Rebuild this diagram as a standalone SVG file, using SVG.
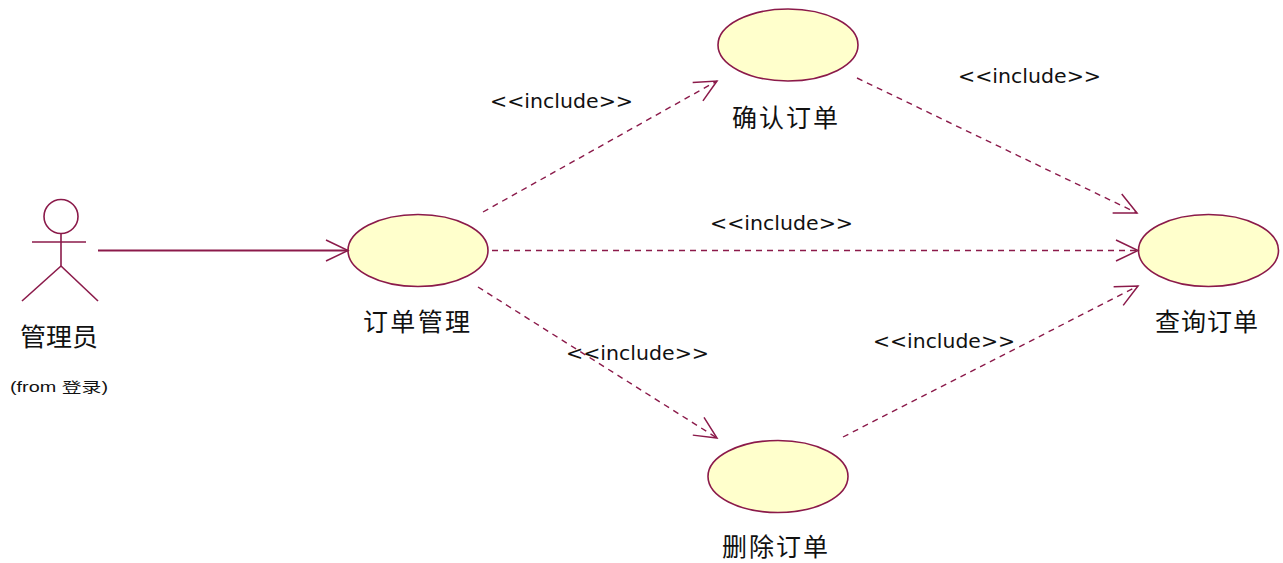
<svg xmlns="http://www.w3.org/2000/svg" width="1283" height="563" viewBox="0 0 1283 563">
<style>
.uc{fill:#FFFFCC;stroke:#8B1A4A;stroke-width:1.6}
.actor{fill:none;stroke:#8B1A4A;stroke-width:1.6}
.assoc{fill:none;stroke:#8B1A4A;stroke-width:1.8}
.dep{fill:none;stroke:#8B1A4A;stroke-width:1.4;stroke-dasharray:6 5}
.lbl{font-family:"Noto Sans CJK SC","Noto Sans",sans-serif;font-size:25px;fill:#111;text-anchor:middle}
.inc{font-family:"DejaVu Sans",sans-serif;font-size:20px;fill:#111}
.from{font-family:"Liberation Sans","Noto Sans CJK SC",sans-serif;font-size:14px;fill:#111}
</style>
<defs>
<marker id="open" markerUnits="userSpaceOnUse" markerWidth="30" markerHeight="30" refX="0" refY="0" viewBox="-25 -15 30 30" orient="auto">
<path d="M -22 -10.5 L 0 0 L -22 10.5" fill="none" stroke="#8B1A4A" stroke-width="1.5"/>
</marker>
</defs>
<rect x="0" y="0" width="1283" height="563" fill="#FFFFFF"/>
<g id="actor-admin">
<circle class="actor" cx="61" cy="216.5" r="17"/>
<line class="actor" x1="32" y1="242" x2="86" y2="242"/>
<line class="actor" x1="61" y1="233.5" x2="61" y2="266"/>
<line class="actor" x1="61" y1="266" x2="22" y2="301"/>
<line class="actor" x1="61" y1="266" x2="98" y2="301"/>
<text class="lbl" x="59" y="346" textLength="78" lengthAdjust="spacingAndGlyphs">管理员</text>
<text class="from" x="10" y="392" textLength="98" lengthAdjust="spacingAndGlyphs">(from 登录)</text>
</g>
<g id="uc-order-mgmt">
<ellipse class="uc" cx="418" cy="250.5" rx="70" ry="36"/>
<text class="lbl" x="416.5" y="331" textLength="107" lengthAdjust="spacing">订单管理</text>
</g>
<g id="uc-confirm">
<ellipse class="uc" cx="788" cy="45" rx="70" ry="36"/>
<text class="lbl" x="785" y="127" textLength="106" lengthAdjust="spacing">确认订单</text>
</g>
<g id="uc-query">
<ellipse class="uc" cx="1208.5" cy="250.5" rx="70" ry="36"/>
<text class="lbl" x="1206.5" y="331" textLength="103" lengthAdjust="spacing">查询订单</text>
</g>
<g id="uc-delete">
<ellipse class="uc" cx="778" cy="476.5" rx="70" ry="36"/>
<text class="lbl" x="775" y="556" textLength="106" lengthAdjust="spacing">删除订单</text>
</g>
<g id="connectors">
<line class="assoc" x1="98" y1="250.5" x2="348" y2="250.5" marker-end="url(#open)"/>
<line class="dep" x1="483" y1="212" x2="717" y2="81" marker-end="url(#open)"/>
<line class="dep" x1="857" y1="78" x2="1137" y2="213" marker-end="url(#open)"/>
<line class="dep" x1="492" y1="250.5" x2="1138" y2="250.5" marker-end="url(#open)"/>
<line class="dep" x1="478" y1="287" x2="717" y2="438" marker-end="url(#open)"/>
<line class="dep" x1="843" y1="437" x2="1138" y2="286" marker-end="url(#open)"/>
<text class="inc" x="490" y="108" textLength="143" lengthAdjust="spacingAndGlyphs">&lt;&lt;include&gt;&gt;</text>
<text class="inc" x="958" y="83" textLength="143" lengthAdjust="spacingAndGlyphs">&lt;&lt;include&gt;&gt;</text>
<text class="inc" x="710" y="230" textLength="143" lengthAdjust="spacingAndGlyphs">&lt;&lt;include&gt;&gt;</text>
<text class="inc" x="566" y="360" textLength="143" lengthAdjust="spacingAndGlyphs">&lt;&lt;include&gt;&gt;</text>
<text class="inc" x="873" y="348" textLength="142" lengthAdjust="spacingAndGlyphs">&lt;&lt;include&gt;&gt;</text>
</g>
</svg>
